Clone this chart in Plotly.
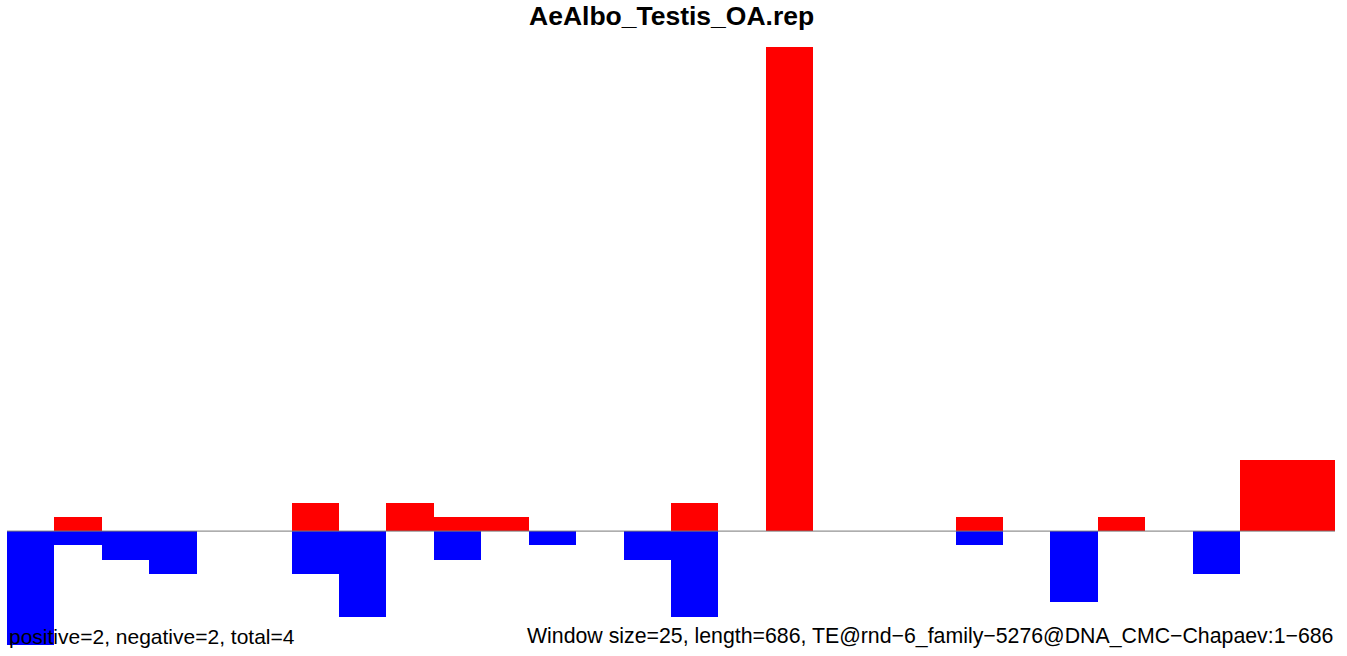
import plotly.graph_objects as go

# Window index (28 windows of 25 bp over a length of 686)
windows = list(range(1, 29))
# Counts per window
positive_counts = [0, 1, 0, 0, 0, 0, 2, 0, 2, 1, 1, 0, 0, 0, 2, 0, 34, 0, 0, 0, 1, 0, 0, 1, 0, 0, 5, 5]
negative_counts = [8, 1, 2, 3, 0, 0, 3, 6, 0, 2, 0, 1, 0, 2, 6, 0, 0, 0, 0, 0, 1, 0, 5, 0, 0, 3, 0, 0]

title_text = "AeAlbo_Testis_OA.rep"
left_note = "positive=2, negative=2, total=4"
right_note = "Window size=25, length=686, TE@rnd\u22126_family\u22125276@DNA_CMC\u2212Chapaev:1\u2212686"

FONT = "Liberation Sans, Arial, Helvetica, sans-serif"

fig = go.Figure()
fig.add_trace(go.Bar(x=windows, y=positive_counts, marker=dict(color="#FF0000", line=dict(width=0)),
                     width=1, showlegend=False, hoverinfo="x+y"))
fig.add_trace(go.Bar(x=windows, y=[-v for v in negative_counts], marker=dict(color="#0000FF", line=dict(width=0)),
                     width=1, showlegend=False, hoverinfo="x+y"))

fig.add_shape(type="line", xref="paper", x0=0, x1=1, yref="y", y0=0, y1=0,
              line=dict(color="#777777", width=1), layer="above")

fig.add_annotation(text=left_note, xref="paper", x=0, xanchor="left", yref="paper", y=0,
                   yanchor="bottom", yshift=-5, showarrow=False,
                   font=dict(family=FONT, size=21, color="black"))
fig.add_annotation(text=right_note, xref="paper", x=1, xanchor="right", yref="paper", y=0,
                   yanchor="bottom", yshift=-5, showarrow=False,
                   font=dict(family=FONT, size=21.3, color="black"))
fig.add_annotation(text="<b>" + title_text + "</b>", xref="paper", x=0.5, xanchor="center",
                   yref="paper", y=1, yanchor="bottom", yshift=14, showarrow=False,
                   font=dict(family=FONT, size=26.5, color="black"))

fig.update_layout(
    width=1347, height=656,
    margin=dict(l=7, r=12, t=47, b=11, autoexpand=False),
    paper_bgcolor="white", plot_bgcolor="white",
    barmode="relative", bargap=0,
    xaxis=dict(range=[0.5, 28.5], visible=False, showgrid=False, zeroline=False),
    yaxis=dict(range=[-8, 34], visible=False, showgrid=False, zeroline=False),
)

fig.write_html("out.html", config={"displayModeBar": False},
               post_script="document.body.style.margin='0';")
